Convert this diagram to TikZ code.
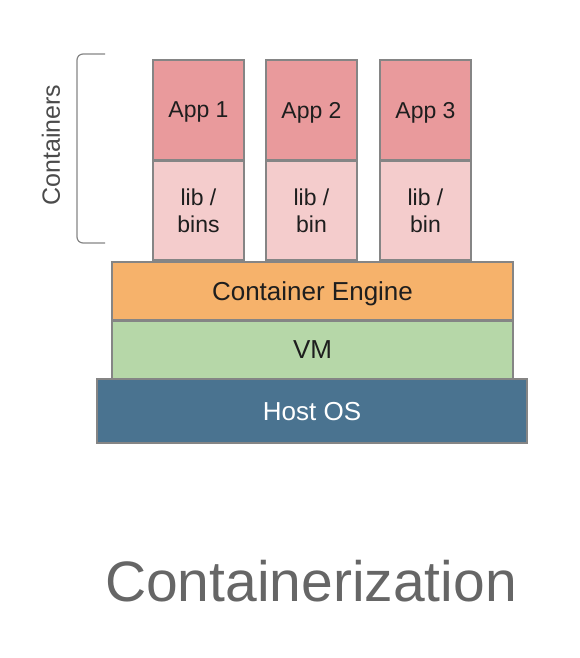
\documentclass[tikz,border=0pt]{standalone}
\usepackage{fontspec}
\setmainfont{Liberation Sans}
\usetikzlibrary{positioning}
\usepackage{xcolor}
\definecolor{ctapp}{HTML}{E99A9C}
\definecolor{ctlib}{HTML}{F4CCCC}
\definecolor{ctengine}{HTML}{F6B26B}
\definecolor{ctvm}{HTML}{B6D7A8}
\definecolor{cthost}{HTML}{4A7390}
\definecolor{ctedge}{HTML}{858585}
\definecolor{cttext}{HTML}{1E1E1E}
\definecolor{cttitle}{HTML}{666666}

\begin{document}
\begin{tikzpicture}[x=1pt, y=1pt,
    layer/.style={draw=ctedge, line width=1.2pt, inner sep=0pt, outer sep=0pt, text=cttext, font=\fontsize{26}{29}\selectfont},
    appbox/.style={layer, minimum width=91pt, font=\fontsize{23}{27}\selectfont, align=center}]
    \useasboundingbox (0,0) rectangle (580,658);
    % stack of layers
    \node[layer, fill=cthost, text=white, text depth=0pt, minimum width=430pt, minimum height=64pt] (host) at (312,247) {Host OS};
    \node[layer, fill=ctvm, text depth=0pt, minimum width=401pt, minimum height=58pt] (vm) at (312.5,308) {VM};
    \node[layer, fill=ctengine, text depth=0pt, minimum width=401pt, minimum height=58pt] (engine) at (312.5,367) {Container Engine};
    % containers
    \foreach \i/\x/\l in {1/198.5/bins,2/311.5/bin,3/425.5/bin} {
      \node[appbox, fill=ctlib, minimum height=99pt] (lib\i) at (\x,447.5) {lib /\\\l};
      \node[appbox, fill=ctapp, text depth=0pt, minimum height=100pt, above=1pt of lib\i] (app\i) {App \i};
    }
    \draw[ctedge, line width=1.2pt, rounded corners=6pt] (105,604) -- (77,604) -- (77,415) -- (105,415);
    \node[rotate=90, text=cttext!80, font=\fontsize{25}{28}\selectfont] (cont) at (51,513) {Containers};
    \node[anchor=base, text=cttitle, font=\fontsize{57}{62}\selectfont] (title) at (311,56) {Containerization};
  \end{tikzpicture}
\end{document}
